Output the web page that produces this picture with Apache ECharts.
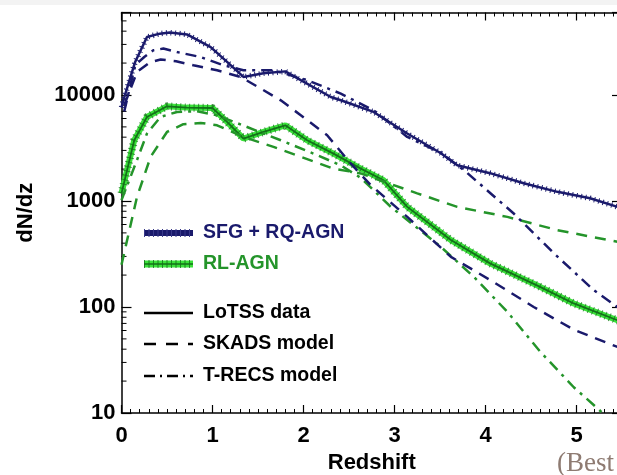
<!DOCTYPE html>
<html><head><meta charset="utf-8">
<script src="https://cdn.jsdelivr.net/npm/echarts@6/dist/echarts.min.js"></script>
<style>html,body{margin:0;padding:0;background:#fff;overflow:hidden;width:617px;height:475px}#c{width:632px;height:475px}</style>
</head><body><div id="c"></div>
<script>
// ---- axis ticks ----
const xTickLabels = [0, 1, 2, 3, 4, 5];
const yTickLabels = [10, 100, 1000, 10000];
const yMinorTicks = [20,30,40,50,60,70,80,90,200,300,400,500,600,700,800,900,
  2000,3000,4000,5000,6000,7000,8000,9000,20000,30000,40000,50000];

// ---- SFG + RQ-AGN ----
const sfgDataZ  = [0.0, 0.02, 0.15, 0.28, 0.42, 0.53, 0.72, 0.98, 1.16, 1.34, 1.56, 1.80, 1.97, 2.30, 2.41, 2.77, 3.14, 3.51, 3.69, 4.05, 4.42, 4.79, 5.15, 5.45, 5.5];
const sfgDataV  = [7650, 8910, 20500, 35200, 37900, 38800, 37300, 28300, 20500, 14800, 16000, 16700, 13800, 9570, 8910, 6920, 4330, 2820, 2170, 1830, 1470, 1220, 1060, 880, 860];
const sfgTrecsZ = [0.03, 0.15, 0.25, 0.35, 0.46, 0.61, 0.87, 1.12, 1.34, 1.67, 2.04, 2.41, 2.77, 3.14, 3.51, 3.78, 4.31, 4.75, 5.19, 5.45, 5.5];
const sfgTrecsV = [7000, 19100, 22800, 26400, 27400, 25400, 22800, 19100, 17100, 17100, 13800, 10300, 7180, 4020, 2850, 1900, 762, 322, 144, 100, 93];
const sfgSkadsZ = [0.03, 0.17, 0.32, 0.43, 0.60, 0.79, 1.05, 1.31, 1.53, 1.75, 1.97, 2.26, 2.52, 2.74, 3.14, 3.62, 4.05, 4.53, 4.97, 5.45, 5.5];
const sfgSkadsV = [8000, 16500, 20500, 21600, 20800, 19100, 17100, 14800, 11500, 8910, 6440, 4170, 2250, 1410, 708, 297, 180, 100, 61, 42, 41];

// ---- RL-AGN ----
const rlDataZ  = [0.0, 0.14, 0.28, 0.50, 0.72, 1.00, 1.16, 1.34, 1.56, 1.80, 2.04, 2.33, 2.63, 2.88, 3.14, 3.62, 4.05, 4.60, 4.97, 5.45, 5.5];
const rlDataV  = [1180, 3740, 6210, 7820, 7600, 7540, 5570, 3880, 4480, 5180, 3740, 2800, 2020, 1570, 880, 428, 258, 155, 108, 75, 72];
const rlSkadsZ = [0.0, 0.17, 0.32, 0.50, 0.68, 0.87, 1.05, 1.34, 1.67, 1.97, 2.33, 2.63, 3.25, 3.69, 4.24, 4.79, 5.45, 5.5];
const rlSkadsV = [250, 1090, 2610, 4480, 5300, 5450, 5180, 4020, 3240, 2610, 2020, 1820, 1180, 880, 708, 531, 412, 405];
const rlTrecsZ = [0.0, 0.17, 0.28, 0.43, 0.61, 0.83, 1.05, 1.38, 1.75, 2.11, 2.41, 2.63, 2.96, 3.51, 3.87, 4.24, 4.60, 4.97, 5.26, 5.35];
const rlTrecsV = [1020, 2430, 4330, 6210, 6920, 7020, 6440, 4990, 3740, 2800, 2170, 1650, 880, 369, 193, 90, 38, 17.5, 10.5, 8.5];

const pairs = (zs, vs) => zs.map((z, i) => [z, vs[i]]);

const NAVY = '#1a1a6c';
const GREEN = '#24942a';
const GREEN_DARK = '#14701a';
const GREEN_BAND = '#3ae23a';
const FONT = '"Liberation Sans", Arial, sans-serif';
const DASH = [11, 8];
const DASHDOT = [11, 6, 3, 6];

function lineSeries(data, color, width, type, extra) {
  return Object.assign({
    type: 'line', data: data, showSymbol: false, symbol: 'none', silent: true,
    clip: true, xAxisIndex: 0, yAxisIndex: 0,
    lineStyle: { color: color, width: width, type: type }
  }, extra || {});
}

const chart = echarts.init(document.getElementById('c'), null, { renderer: 'canvas' });

const axisCommonX = {
  type: 'value', min: 0, max: 5.5, interval: 1,
  axisLine: { show: true, onZero: false, lineStyle: { color: '#000', width: 1.5 } },
  axisTick: { show: true, inside: true, length: 8, lineStyle: { color: '#000', width: 1.2 } },
  minorTick: { show: true, splitNumber: 10, length: 4, lineStyle: { color: '#000', width: 1 } },
  splitLine: { show: false }, minorSplitLine: { show: false }
};
const axisCommonY = {
  type: 'log', logBase: 10, min: 10, max: 60000,
  axisLine: { show: true, onZero: false, lineStyle: { color: '#000', width: 1.5 } },
  axisTick: { show: true, inside: true, length: 10, lineStyle: { color: '#000', width: 1.2 } },
  splitLine: { show: false }
};

const legendY = { sfg: 233, rl: 264, lotss: 313, skads: 344, trecs: 376 };
const LX1 = 144, LX2 = 193, TX = 203;
const legendFont = 'bold 19.5px ' + FONT;

const graphics = [
  { type: 'rect', shape: { x: 0, y: 0, width: 632, height: 5 }, style: { fill: '#f3f3f3' }, silent: true },
  // SFG legend bar
  { type: 'line', shape: { x1: LX1, y1: legendY.sfg, x2: LX2, y2: legendY.sfg }, style: { stroke: NAVY, lineWidth: 6 } },
  { type: 'line', shape: { x1: LX1, y1: legendY.sfg, x2: LX2, y2: legendY.sfg }, style: { stroke: '#3a3a8a', lineWidth: 8, lineDash: [1, 3.5] } },
  { type: 'text', x: TX, y: legendY.sfg, style: { text: 'SFG + RQ-AGN', font: legendFont, fill: NAVY, verticalAlign: 'middle', textVerticalAlign: 'middle' } },
  // RL legend bar
  { type: 'line', shape: { x1: LX1, y1: legendY.rl, x2: LX2, y2: legendY.rl }, style: { stroke: GREEN_BAND, lineWidth: 7 } },
  { type: 'line', shape: { x1: LX1, y1: legendY.rl, x2: LX2, y2: legendY.rl }, style: { stroke: GREEN_DARK, lineWidth: 8, lineDash: [1, 3.5], opacity: 0.8 } },
  { type: 'line', shape: { x1: LX1, y1: legendY.rl, x2: LX2, y2: legendY.rl }, style: { stroke: GREEN_DARK, lineWidth: 1.5 } },
  { type: 'text', x: TX, y: legendY.rl, style: { text: 'RL-AGN', font: legendFont, fill: GREEN, verticalAlign: 'middle', textVerticalAlign: 'middle' } },
  // style legend
  { type: 'line', shape: { x1: LX1, y1: legendY.lotss, x2: LX2, y2: legendY.lotss }, style: { stroke: '#000', lineWidth: 2.5 } },
  { type: 'text', x: TX, y: legendY.lotss, style: { text: 'LoTSS data', font: legendFont, fill: '#000', verticalAlign: 'middle', textVerticalAlign: 'middle' } },
  { type: 'line', shape: { x1: LX1, y1: legendY.skads, x2: LX2, y2: legendY.skads }, style: { stroke: '#000', lineWidth: 2.5, lineDash: [12, 10] } },
  { type: 'text', x: TX, y: legendY.skads, style: { text: 'SKADS model', font: legendFont, fill: '#000', verticalAlign: 'middle', textVerticalAlign: 'middle' } },
  { type: 'line', shape: { x1: LX1, y1: legendY.trecs, x2: LX2, y2: legendY.trecs }, style: { stroke: '#000', lineWidth: 2.5, lineDash: [11, 5, 2, 5] } },
  { type: 'text', x: TX, y: legendY.trecs, style: { text: 'T-RECS model', font: legendFont, fill: '#000', verticalAlign: 'middle', textVerticalAlign: 'middle' } },
  // cropped caption
  { type: 'text', x: 557, y: 464, style: { text: '(Best', font: '27px "Liberation Serif", "DejaVu Serif", serif', fill: '#8e7b72', verticalAlign: 'middle', textVerticalAlign: 'middle' } }
];

const option = {
  animation: false,
  backgroundColor: '#ffffff',
  grid: { left: 121.5, top: 12.5, width: 500.5, height: 400.5, containLabel: false, outerBoundsMode: 'none' },
  xAxis: [
    Object.assign({}, axisCommonX, {
      position: 'bottom',
      axisLabel: { show: true, margin: 12, color: '#000', fontFamily: FONT, fontWeight: 'bold', fontSize: 22,
        formatter: v => (xTickLabels.indexOf(v) >= 0 ? String(v) : '') },
      name: 'Redshift', nameLocation: 'middle', nameGap: 38,
      nameTextStyle: { color: '#000', fontFamily: FONT, fontWeight: 'bold', fontSize: 22 }
    }),
    Object.assign({}, axisCommonX, { position: 'top', axisLabel: { show: false } })
  ],
  yAxis: [
    Object.assign({}, axisCommonY, {
      position: 'left',
      axisLabel: { show: true, margin: 6, color: '#000', fontFamily: FONT, fontWeight: 'bold', fontSize: 22,
        formatter: v => (yTickLabels.indexOf(Math.round(v)) >= 0 ? String(Math.round(v)) : '') },
      name: 'dN/dz', nameLocation: 'middle', nameGap: 85, nameRotate: 90,
      nameTextStyle: { color: '#000', fontFamily: FONT, fontWeight: 'bold', fontSize: 22 }
    }),
    Object.assign({}, axisCommonY, { position: 'right', axisLabel: { show: false } })
  ],
  graphic: graphics,
  series: [
    // minor log ticks on left and right y axes
    {
      type: 'custom', silent: true, xAxisIndex: 0, yAxisIndex: 0, clip: false,
      data: yMinorTicks.map(v => [0, v]),
      renderItem: function (params, api) {
        const p = api.coord([0, api.value(1)]);
        const cs = params.coordSys;
        return { type: 'group', children: [
          { type: 'line', shape: { x1: cs.x, y1: p[1], x2: cs.x + 5, y2: p[1] }, style: { stroke: '#000', lineWidth: 1 } },
          { type: 'line', shape: { x1: cs.x + cs.width, y1: p[1], x2: cs.x + cs.width - 5, y2: p[1] }, style: { stroke: '#000', lineWidth: 1 } }
        ] };
      }
    },
    // RL-AGN data: band, tick marks, centre line
    lineSeries(pairs(rlDataZ, rlDataV), GREEN_BAND, 6, 'solid', { z: 2 }),
    lineSeries(pairs(rlDataZ, rlDataV), GREEN_DARK, 8, [1, 3.5], { z: 3, lineStyle: { color: GREEN_DARK, width: 8, type: [1, 3.5], opacity: 0.75 } }),
    lineSeries(pairs(rlDataZ, rlDataV), GREEN_DARK, 1.8, 'solid', { z: 4 }),
    // RL models
    lineSeries(pairs(rlSkadsZ, rlSkadsV), GREEN, 2.5, DASH, { z: 5 }),
    lineSeries(pairs(rlTrecsZ, rlTrecsV), GREEN, 2.5, DASHDOT, { z: 5 }),
    // SFG models
    lineSeries(pairs(sfgSkadsZ, sfgSkadsV), NAVY, 2.5, DASH, { z: 6 }),
    lineSeries(pairs(sfgTrecsZ, sfgTrecsV), NAVY, 2.5, DASHDOT, { z: 6 }),
    // SFG data with error ticks
    lineSeries(pairs(sfgDataZ, sfgDataV), NAVY, 5.5, [1, 3.5], { z: 7 }),
    lineSeries(pairs(sfgDataZ, sfgDataV), NAVY, 2.5, 'solid', { z: 8 })
  ]
};
chart.setOption(option);
</script>
</body></html>
